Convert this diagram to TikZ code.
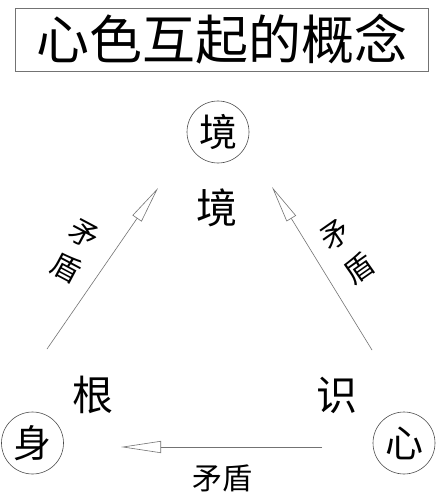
\documentclass[tikz,border=0pt]{standalone}
\usepackage{fontspec}
\newfontfamily\cjk{Noto Sans CJK SC}
\usetikzlibrary{arrows.meta}
\begin{document}
\begin{tikzpicture}[x=1pt,y=-1pt,
  circ/.style={circle, draw=black!70, line width=0.6pt, minimum size=62pt, inner sep=0pt, font=\cjk\fontsize{38}{38}\selectfont},
  lbl/.style={inner sep=0pt, font=\cjk\fontsize{41}{41}\selectfont},
  small/.style={inner sep=0pt, font=\cjk\fontsize{30}{30}\selectfont},
  vsmall/.style={inner sep=0pt, align=center, font=\cjk\fontsize{29}{38}\selectfont},
  vsmallwide/.style={vsmall, font=\cjk\fontsize{29}{42}\selectfont},
  conn/.style={draw=black!55, line width=0.6pt, -{Triangle[open, length=37pt, width=11pt]}},
  titlebox/.style={draw=black!55, line width=0.8pt, minimum width=413pt, minimum height=63pt, inner sep=0pt, font=\cjk\fontsize{53}{53}\selectfont}
]
\useasboundingbox (0,0) rectangle (436,500);
\fill[white] (0,0) rectangle (436,500);
\node[titlebox] (title) at (221.5,39.5) {心色互起的概念};
\node[circ] (jing) at (218,132) {境};
\node[circ] (shen) at (32.5,443) {身};
\node[circ] (xin) at (404,443) {心};
\node[lbl] (jinglbl) at (217,208) {境};
\node[lbl] (gen) at (93,395) {根};
\node[lbl] (shi) at (337,395) {识};
\node[small] (bm) at (222,478) {矛盾};
\node[vsmall, rotate=-28] (lm) at (75,251.5) {矛\\盾};
\node[vsmallwide, rotate=35] (rm) at (347.5,251.5) {矛\\盾};
\coordinate (l0) at (47,349);
\coordinate (l1) at (158,188);
\coordinate (r0) at (372,350);
\coordinate (r1) at (272,187);
\coordinate (b0) at (322,447);
\coordinate (b1) at (121,447);
\draw[conn] (l0) -- (l1);
\draw[conn] (r0) -- (r1);
\draw[conn, -{Triangle[open, length=40pt, width=12pt]}] (b0) -- (b1);
\end{tikzpicture}
\end{document}
